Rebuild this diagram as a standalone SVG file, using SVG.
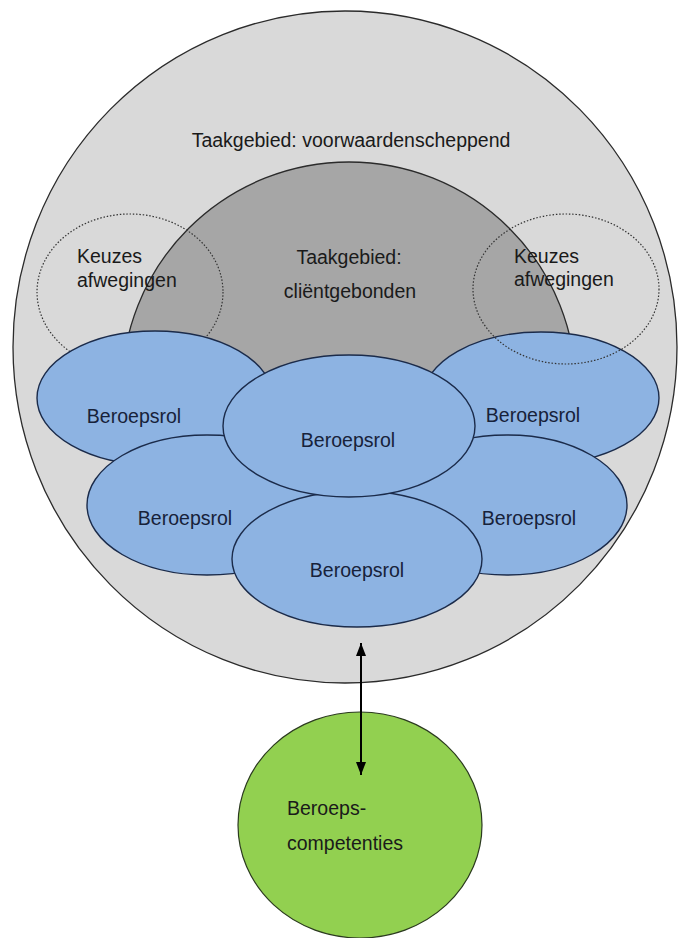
<svg xmlns="http://www.w3.org/2000/svg" width="680" height="938" viewBox="0 0 680 938">
<defs>
<marker id="ah" viewBox="0 0 13 10" refX="13" refY="5" markerWidth="13" markerHeight="10" markerUnits="userSpaceOnUse" orient="auto-start-reverse">
<path d="M0,0 L13,5 L0,10 Z" fill="#000"/>
</marker>
<style>
text{font-family:"Liberation Sans",Arial,sans-serif;font-size:19.5px;fill:#1a1a1a}
.role{fill:#8db3e2;stroke:#1b2b4a;stroke-width:1.4}
.rt{fill:#17223a;text-anchor:middle}
.dot{fill:none;stroke:#333;stroke-width:1.2;stroke-dasharray:1.5 1.8}
</style>
</defs>
<rect width="680" height="938" fill="#fff"/>
<g id="voorwaardenscheppend">
<ellipse cx="345" cy="347" rx="332" ry="336" fill="#d9d9d9" stroke="#2b2b2b" stroke-width="1.3"/>
<text x="351" y="147" text-anchor="middle">Taakgebied: voorwaardenscheppend</text>
</g>
<g id="clientgebonden">
<path d="M122,440 L122,389 A227,227 0 0 1 576,389 L576,440 Z" fill="#a6a6a6" stroke="#2b2b2b" stroke-width="1.3"/>
<text x="349" y="264" text-anchor="middle">Taakgebied:</text>
<text x="350" y="298" text-anchor="middle">cliëntgebonden</text>
</g>
<g id="keuzes-links">
<ellipse class="dot" cx="130" cy="292" rx="93" ry="78"/>
<text x="77" y="263">Keuzes</text>
<text x="77" y="287">afwegingen</text>
</g>
<g id="rol-linksboven">
<ellipse class="role" cx="155" cy="398" rx="118" ry="67"/>
<text class="rt" x="134" y="423">Beroepsrol</text>
</g>
<g id="rol-rechtsboven">
<ellipse class="role" cx="541" cy="398" rx="118" ry="66"/>
<text class="rt" x="533" y="422">Beroepsrol</text>
</g>
<g id="keuzes-rechts">
<ellipse class="dot" cx="566" cy="289" rx="93" ry="75"/>
<text x="514" y="263">Keuzes</text>
<text x="514" y="286">afwegingen</text>
</g>
<g id="rol-linksonder">
<ellipse class="role" cx="207" cy="505" rx="120" ry="70"/>
<text class="rt" x="185" y="525">Beroepsrol</text>
</g>
<g id="rol-rechtsonder">
<ellipse class="role" cx="507" cy="505" rx="120" ry="70"/>
<text class="rt" x="529" y="525">Beroepsrol</text>
</g>
<g id="rol-onder">
<ellipse class="role" cx="357" cy="559" rx="125" ry="68"/>
<text class="rt" x="357" y="577">Beroepsrol</text>
</g>
<g id="rol-midden">
<ellipse class="role" cx="349" cy="426" rx="126" ry="71"/>
<text class="rt" x="348" y="447">Beroepsrol</text>
</g>
<g id="beroepscompetenties">
<ellipse cx="360" cy="825" rx="122" ry="113" fill="#92d050" stroke="#2b3a1f" stroke-width="1.2"/>
<text x="287" y="815" fill="#1c2a10">Beroeps-</text>
<text x="287" y="850" fill="#1c2a10">competenties</text>
</g>
<g id="connectors">
<line x1="361" y1="643" x2="361" y2="775" stroke="#000" stroke-width="2" marker-start="url(#ah)" marker-end="url(#ah)"/>
</g>
</svg>
